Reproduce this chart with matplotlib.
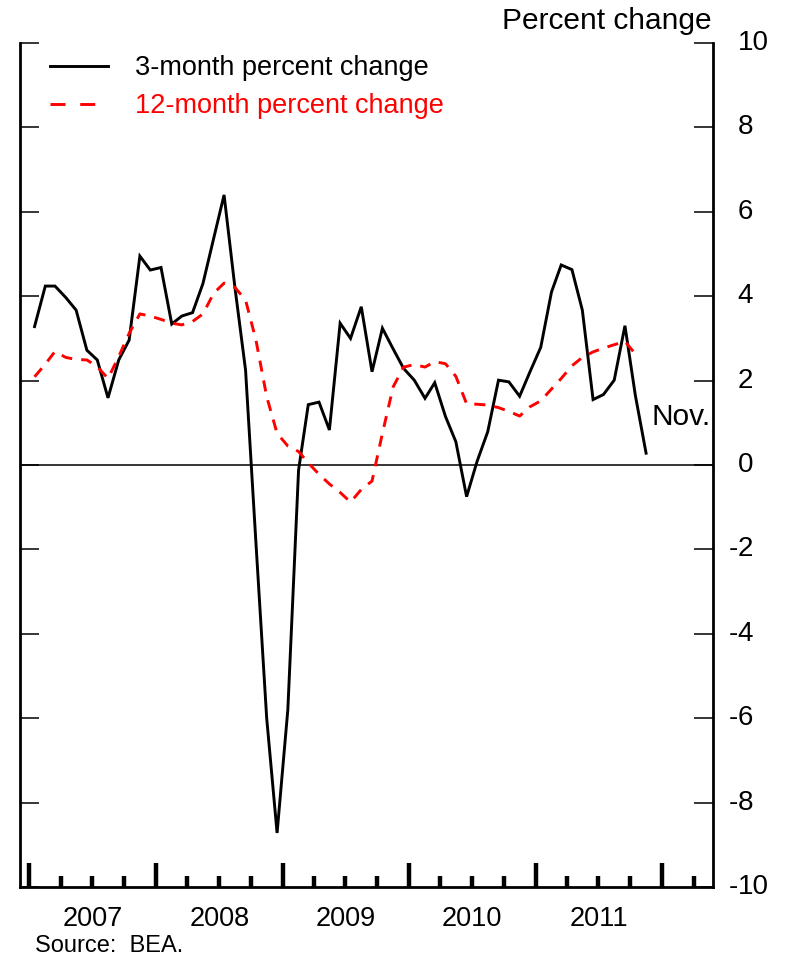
import pandas as pd
import matplotlib
matplotlib.use('Agg')
import matplotlib.pyplot as plt
import matplotlib.dates as mdates
import matplotlib.transforms as mtransforms
from matplotlib.lines import Line2D


# =========================
# DATA
# =========================
# 3-month percent change, Jan 2007 - Nov 2011
three_month = [
    3.28, 4.24, 4.24, 3.97, 3.67, 2.72, 2.49, 1.59, 2.49, 2.96, 4.95, 4.62,   # 2007
    4.68, 3.34, 3.53, 3.61, 4.30, 5.37, 6.40, 4.23, 2.25, -1.85, -6.00, -8.72,  # 2008
    -5.80, -0.12, 1.43, 1.49, 0.83, 3.36, 3.00, 3.75, 2.21, 3.24, 2.75, 2.29,  # 2009
    2.01, 1.58, 1.95, 1.15, 0.55, -0.75, 0.08, 0.79, 2.01, 1.97, 1.63, 2.21,   # 2010
    2.79, 4.10, 4.74, 4.63, 3.67, 1.55, 1.67, 2.01, 3.30, 1.65, 0.28,         # 2011
]

# 12-month percent change, Jan 2007 - Oct 2011
twelve_month = [
    2.09, 2.39, 2.69, 2.55, 2.50, 2.49, 2.33, 2.05, 2.57, 3.12, 3.58, 3.53,   # 2007
    3.45, 3.36, 3.32, 3.40, 3.58, 4.07, 4.31, 4.21, 3.91, 2.96, 1.62, 0.75,   # 2008
    0.45, 0.32, 0.05, -0.22, -0.45, -0.65, -0.88, -0.58, -0.38, 0.75, 1.85, 2.32,  # 2009
    2.38, 2.32, 2.45, 2.40, 2.10, 1.45, 1.44, 1.42, 1.36, 1.27, 1.16, 1.38,   # 2010
    1.52, 1.80, 2.05, 2.35, 2.55, 2.68, 2.77, 2.85, 2.93, 2.63,               # 2011
]

year_labels = ['2007', '2008', '2009', '2010', '2011']
y_ticks = [10, 8, 6, 4, 2, 0, -2, -4, -6, -8, -10]

# monthly observations plotted at mid-month
dates = pd.date_range('2007-01-01', periods=len(three_month), freq='MS') + pd.Timedelta(days=15)
dates_12 = dates[:len(twelve_month)]


# =========================
# PLOT
# =========================
plt.rcParams['font.family'] = ['Liberation Sans', 'DejaVu Sans']
plt.rcParams['lines.scale_dashes'] = False
FS = 19.5
LW = 2.1

fig = plt.figure(figsize=(7.86, 9.59), dpi=100)
ax = fig.add_axes([20 / 786, 72 / 959, 693.3 / 786, 844 / 959])

ax.axhline(0, color='black', linewidth=1.1)
ax.plot(dates, three_month, color='black', linewidth=LW, solid_joinstyle='miter')
ax.plot(dates_12, twelve_month, color='#ff0000', linewidth=LW, dashes=(8, 6.5))

ax.set_xlim(pd.Timestamp('2006-12-05'), pd.Timestamp('2012-05-28'))
ax.set_ylim(-10, 10)

# spines
ax.spines['top'].set_visible(False)
for side in ['left', 'right', 'bottom']:
    ax.spines[side].set_linewidth(2.0)

# x ticks: years (tall) and quarters (short)
ax.xaxis.set_major_locator(mdates.YearLocator())
ax.xaxis.set_minor_locator(mdates.MonthLocator(bymonth=[4, 7, 10]))
ax.tick_params(axis='x', which='major', direction='in', length=17, width=3.2,
               labelbottom=False)
ax.tick_params(axis='x', which='minor', direction='in', length=8, width=3.2)

# y ticks on both sides, labels on the right
ax.set_yticks(y_ticks)
ax.tick_params(axis='y', direction='in', length=13.5, width=1.1,
               left=True, right=True, labelleft=False, labelright=False)

ytrans = mtransforms.blended_transform_factory(ax.transAxes, ax.transData)
for v in y_ticks:
    ax.annotate(str(abs(v)), xy=(1, v), xycoords=ytrans, xytext=(17.5, 0),
                textcoords='offset points', ha='left', va='center', fontsize=20)
    if v < 0:
        ax.annotate('-', xy=(1, v), xycoords=ytrans, xytext=(17.5, 0),
                    textcoords='offset points', ha='right', va='center', fontsize=20)

# year labels centred under each year
xtrans = mtransforms.blended_transform_factory(ax.transData, ax.transAxes)
for lab in year_labels:
    ax.text(pd.Timestamp(lab + '-07-02'), -39 / 844, lab, transform=xtrans,
            ha='center', va='baseline', fontsize=FS)

ax.text(0.997, 1.14, 'Nov.', transform=ytrans, ha='right', va='center', fontsize=21.5)

# legend
handles = [
    Line2D([], [], color='black', linewidth=LW),
    Line2D([], [], color='#ff0000', linewidth=LW, dashes=(10.8, 10.6)),
]
leg = ax.legend(handles, ['3-month percent change', '12-month percent change'],
                loc='upper left', bbox_to_anchor=(50 / 786, 1 - 55 / 959),
                bbox_transform=fig.transFigure, frameon=False, fontsize=FS,
                borderpad=0, borderaxespad=0, handlelength=2.14,
                handletextpad=1.0, labelspacing=0.45)
leg.get_texts()[1].set_color('#ff0000')

fig.text(712 / 786, 1 - 29 / 959, 'Percent change', ha='right', va='baseline', fontsize=21.5)
fig.text(35 / 786, 1 - 952 / 959, 'Source:  BEA.', ha='left', va='baseline', fontsize=17)

fig.savefig('out.png', dpi=100)
